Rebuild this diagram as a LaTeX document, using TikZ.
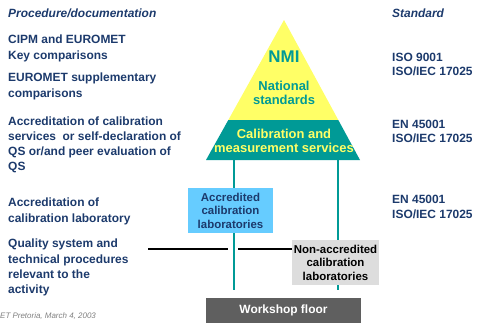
\documentclass[tikz,border=0pt]{standalone}
\usepackage{fontspec}
\setmainfont{Liberation Sans}
\definecolor{navy}{HTML}{1C3A6C}
\definecolor{tealc}{HTML}{009A96}
\definecolor{yel}{HTML}{FFFF66}
\definecolor{lblue}{HTML}{66CCFF}
\definecolor{lgray}{HTML}{DDDDDD}
\definecolor{dgray}{HTML}{5F5F5F}
\tikzset{
  lefttxt/.style={anchor=north west, inner sep=0pt, text=navy, font=\fontsize{12}{15.5}\selectfont\bfseries, align=left},
  righttxt/.style={anchor=north west, inner sep=0pt, text=navy, font=\fontsize{12}{14.5}\selectfont\bfseries, align=left},
  tealline/.style={draw=tealc, line width=1.6bp},
  blackline/.style={draw=black, line width=1.4bp},
  smallbox/.style={inner sep=0pt, align=center, font=\fontsize{11.5}{13.5}\selectfont\bfseries}
}
\begin{document}
\begin{tikzpicture}[x=1bp,y=-1bp]
\useasboundingbox (0,0) rectangle (477,322);
% headings
\node[lefttxt, font=\fontsize{12}{14}\selectfont\bfseries\itshape] (hproc) at (8,9) {Procedure/documentation};
\node[righttxt, font=\fontsize{12}{14}\selectfont\bfseries\itshape] (hstd) at (392,9) {Standard};
% left texts
\node[lefttxt] (l1) at (8,35) {CIPM and EUROMET\\Key comparisons};
\node[lefttxt] (l2) at (8,73) {EUROMET supplementary\\comparisons};
\node[lefttxt, font=\fontsize{12}{15}\selectfont\bfseries] (l3) at (8,117) {Accreditation of calibration\\services~ or self-declaration of\\QS or/and peer evaluation of\\QS};
\node[lefttxt] (l4) at (8,198) {Accreditation of\\calibration laboratory};
\node[lefttxt, font=\fontsize{12}{15.3}\selectfont\bfseries] (l5) at (8,239) {Quality system and\\technical procedures\\relevant to the\\activity};
% right texts
\node[righttxt] (r1) at (392,53) {ISO 9001\\ISO/IEC 17025};
\node[righttxt] (r2) at (392,120) {EN 45001\\ISO/IEC 17025};
\node[righttxt] (r3) at (392,195) {EN 45001\\ISO/IEC 17025};
% pyramid
\coordinate (apex) at (284,20);
\coordinate (yl) at (228.3,120);
\coordinate (yr) at (338.3,120);
\coordinate (bl) at (206,160);
\coordinate (br) at (360,160);
\fill[yel] (apex) -- (yr) -- (yl) -- cycle;
\fill[tealc] (yl) -- (yr) -- (br) -- (bl) -- cycle;
\node[inner sep=0pt, text=tealc, font=\fontsize{17}{18}\selectfont\bfseries] (nmi) at (284,57) {NMI};
\node[inner sep=0pt, text=tealc, align=center, font=\fontsize{13}{14}\selectfont\bfseries] (nat) at (284,93) {National\\standards};
\node[inner sep=0pt, text=yel, align=center, font=\fontsize{13}{14}\selectfont\bfseries] (cms) at (284,140.5) {Calibration and\\measurement services};
% vertical lines
\coordinate (v1t) at (234,160);
\coordinate (v1b) at (234,290);
\coordinate (v2t) at (338,160);
\coordinate (v2b) at (338,290);
\draw[tealline] (v1t) -- (v1b);
\draw[tealline] (v2t) -- (v2b);
% boxes
\node[smallbox, fill=lblue, text=navy, minimum width=85bp, minimum height=45bp] (acc) at (230.5,210.5) {Accredited\\calibration\\laboratories};
\node[smallbox, fill=lgray, text=black, minimum width=87bp, minimum height=45bp] (nacc) at (335.5,262.5) {Non-accredited\\calibration\\laboratories};
\node[fill=dgray, text=white, inner sep=0pt, minimum width=155bp, minimum height=30bp] (ws) at (283.5,313) {};
\node[text=white, inner sep=0pt, font=\fontsize{12}{14}\selectfont\bfseries] (wst) at (283.5,310) {Workshop floor};
% black line
\coordinate (h1) at (148,249);
\coordinate (h2) at (228,249);
\coordinate (h3) at (238,249);
\draw[blackline] (h1) -- (h2);
\draw[blackline] (h3) -- (nacc.west |- h3);
% footer
\node[anchor=west, inner sep=0pt, text=gray, font=\fontsize{8}{9}\selectfont\itshape] (foot) at (0,316) {ET Pretoria, March 4, 2003};
\end{tikzpicture}
\end{document}
